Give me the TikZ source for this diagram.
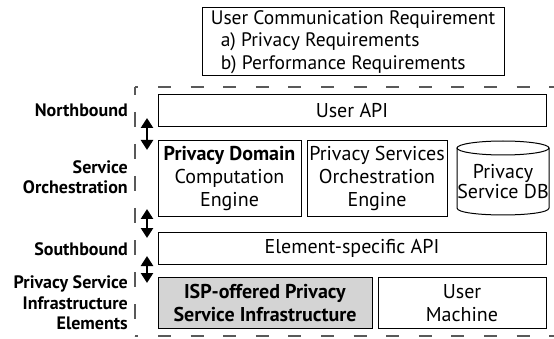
\documentclass[tikz,border=0pt]{standalone}
\usepackage{fontspec}
\setmainfont{PT Sans}
\usetikzlibrary{arrows.meta}
\begin{document}
\begin{tikzpicture}[x=1pt,y=-1pt,
  box/.style={draw, line width=1pt, inner sep=0pt, align=center, font=\fontsize{20}{23}\selectfont},
  lbl/.style={anchor=east, align=right, inner sep=0pt, font=\fontsize{18}{20.5}\selectfont\bfseries},
  frame/.style={draw=black!65, line width=1.3pt, dash pattern=on 13pt off 19.6pt},
  dbl/.style={line width=2.6pt, {Triangle[width=12pt,length=10pt]}-{Triangle[width=12pt,length=10pt]}}]
\useasboundingbox (0,0) rectangle (554,339);
% dashed frame
\coordinate (ftl) at (135,87);
\coordinate (ftr) at (560,87);
\coordinate (fbl) at (135,336);
\coordinate (fbr) at (560,336);
\draw[frame, dash phase=9.6pt] (ftl) -- (ftr);
\draw[frame, dash pattern=on 15pt off 17pt, dash phase=7pt] (ftl) -- (fbl);
\draw[frame, dash phase=9.6pt] (fbl) -- (fbr);
% top requirement box
\node[box, align=left, minimum width=302pt, minimum height=68pt, font=\fontsize{19.5}{22.5}\selectfont] (req) at (353,42)
  {User Communication Requirement\\\hspace*{10pt}a) Privacy Requirements\\\hspace*{10pt}b) Performance Requirements};
% layers
\node[box, minimum width=388pt, minimum height=32pt] (api) at (352,110.5) {User API};
\node[box, minimum width=143pt, minimum height=76pt] (pd) at (229.5,179) {\textbf{Privacy Domain}\\Computation\\Engine};
\node[box, minimum width=140pt, minimum height=76pt] (ps) at (377,179) {Privacy Services\\Orchestration\\Engine};
% database cylinder
\node[minimum width=92pt, minimum height=74pt, inner sep=0pt] (db) at (503,178) {};
\draw[line width=1pt] (503,148) ellipse [x radius=46, y radius=7];
\draw[line width=1pt] (457,148) -- (457,208) .. controls (457,217.3) and (549,217.3) .. (549,208) -- (549,148);
\node[align=center, inner sep=0pt, font=\fontsize{20}{20}\selectfont] (dbtext) at (503,182) {Privacy\\Service DB};
\node[box, minimum width=388pt, minimum height=32pt] (esa) at (352,248) {Element-specific API};
\node[box, fill=black!17, minimum width=214pt, minimum height=51pt] (isp) at (265,303) {\textbf{ISP-offered Privacy}\\\textbf{Service Infrastructure}};
\node[box, minimum width=168pt, minimum height=51pt] (um) at (462,303) {User\\Machine};
% labels
\node[lbl] (nb) at (128,110) {Northbound};
\node[lbl] (so) at (128,177) {Service\\Orchestration};
\node[lbl] (sb) at (128,249) {Southbound};
\node[lbl] (pi) at (128,303) {Privacy Service\\Infrastructure\\Elements};
% arrows
\coordinate (a1t) at (147,118);
\coordinate (a1b) at (147,150);
\coordinate (a2t) at (147,209);
\coordinate (a2b) at (147,238);
\coordinate (a3t) at (147,256);
\coordinate (a3b) at (147,283);
\draw[dbl] (a1t) -- (a1b);
\draw[dbl] (a2t) -- (a2b);
\draw[dbl] (a3t) -- (a3b);
\end{tikzpicture}
\end{document}
